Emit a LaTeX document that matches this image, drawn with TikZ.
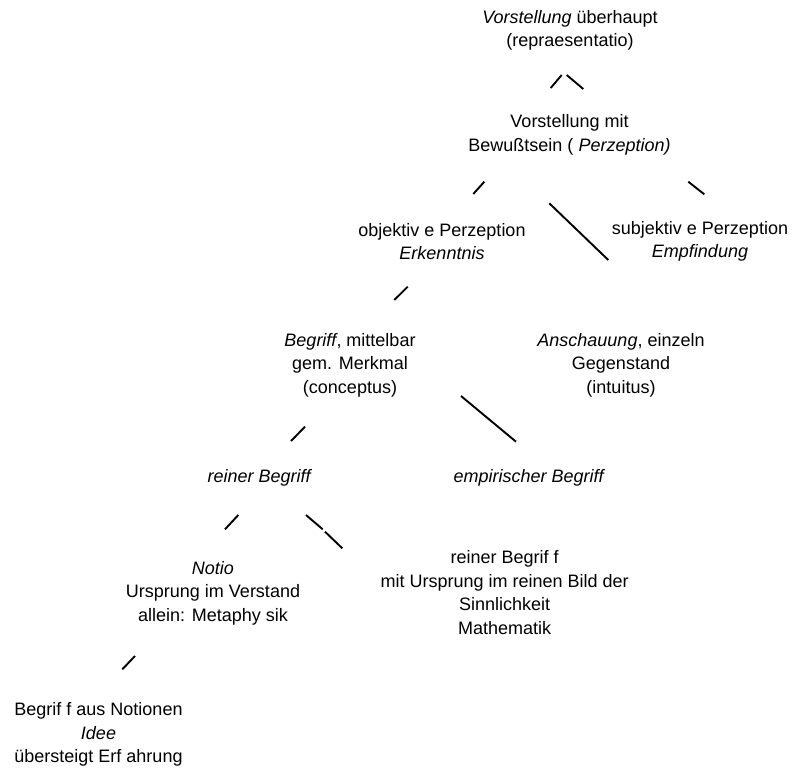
\documentclass[tikz,border=0pt]{standalone}
\usepackage{fontspec}
\setmainfont{Liberation Sans}
\begin{document}
\begin{tikzpicture}[x=1pt,y=-1pt,
  lbl/.style={align=center, font=\fontsize{18pt}{23.5pt}\selectfont, inner sep=0pt},
  frag/.style={line width=1.9pt, line cap=butt}]
\useasboundingbox (0,0) rectangle (792,769);
% nodes
\node[lbl] (top) at (570,30.5) {\textit{Vorstellung} überhaupt\\(repraesentatio)};
\node[lbl] (bew) at (569.5,135) {Vorstellung mit\\Bewußtsein ( \textit{Perzeption)}};
\node[lbl] (obj) at (442,241.5) {objektiv e Perzeption\\\textit{Erkenntnis}};
\node[lbl] (subj) at (700,241.5) {subjektiv e Perzeption\\\textit{Empfindung}};
\node[lbl] (begr) at (350,365) {\textit{Begriff}, mittelbar\\gem. Merkmal\\(conceptus)};
\node[lbl] (ansch) at (621,365) {\textit{Anschauung}, einzeln\\Gegenstand\\(intuitus)};
\node[lbl] (rein) at (260,478) {\textit{reiner Begriff}};
\node[lbl] (emp) at (529.5,478) {\textit{empirischer Begriff}};
\node[lbl] (notio) at (213,593.3) {\textit{Notio}\\Ursprung im Verstand\\allein: Metaphy sik};
\node[lbl] (math) at (504.7,592.8) {reiner Begrif f\\mit Ursprung im reinen Bild der\\Sinnlichkeit\\Mathematik};
\node[lbl] (idee) at (98.5,734.5) {Begrif f aus Notionen\\\textit{Idee}\\übersteigt Erf ahrung};
% connector fragments
\coordinate (a1) at (550.7,88);  \coordinate (a2) at (561.7,75);
\coordinate (b1) at (566.7,75);  \coordinate (b2) at (583.3,89);
\coordinate (c1) at (473.3,194); \coordinate (c2) at (484.3,181.7);
\coordinate (d1) at (688.3,181.7); \coordinate (d2) at (704.3,194.3);
\coordinate (e1) at (549.3,203.3); \coordinate (e2) at (608.3,260);
\coordinate (f1) at (394.3,300); \coordinate (f2) at (407.7,286.7);
\coordinate (g1) at (461,396);   \coordinate (g2) at (516,441.7);
\coordinate (h1) at (291,441);   \coordinate (h2) at (305,426.7);
\coordinate (i1) at (225,529.3); \coordinate (i2) at (238.3,515);
\coordinate (j1) at (306,515);   \coordinate (j2) at (322.7,529.3);
\coordinate (k1) at (325,531.7); \coordinate (k2) at (342.3,548.3);
\coordinate (l1) at (122.3,669.3); \coordinate (l2) at (135,656);
\foreach \p in {a,b,c,d,e,f,g,h,i,j,k,l}{\draw[frag] (\p1) -- (\p2);}
\end{tikzpicture}
\end{document}
